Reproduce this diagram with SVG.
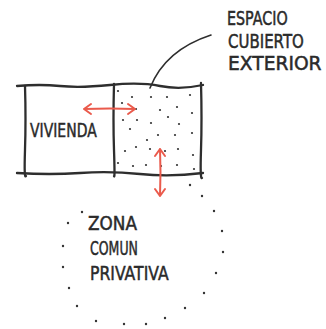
<svg xmlns="http://www.w3.org/2000/svg" width="326" height="329" viewBox="0 0 326 329">
<defs>
<style>
.ln{fill:none;stroke:#2e2e2e;stroke-width:2.3;stroke-linecap:round;stroke-linejoin:round}
.ld{fill:none;stroke:#2e2e2e;stroke-width:1.6;stroke-linecap:round}
.ar{fill:none;stroke:#ea5a4c;stroke-width:2;stroke-linecap:round;stroke-linejoin:round}
.t{font-family:"DejaVu Sans",sans-serif;font-size:19px;fill:#2a2a2a;stroke:#2a2a2a;stroke-width:0.5}
.d{fill:#333}
</style>
</defs>
<rect width="326" height="329" fill="#fff"/>
<g id="vivienda">
<path class="ln" d="M17,86 Q40,84 60,86 T110,85 T160,86 T203,85"/>
<path class="ln" d="M17,173 Q50,175 80,173 T140,174 T203,173"/>
<path class="ln" d="M25,86 Q26,120 25,150 T26,176"/>
<path class="ln" d="M114,84 Q113,120 114,150 T114,176"/>
<text class="t" transform="translate(30,137) scale(0.736,1)">VIVIENDA</text>
</g>
<g id="espacio">
<path class="ln" d="M201,83 Q202,120 201,150 T202,178"/>
<g class="d">
<circle cx="118" cy="91" r="1.1"/><circle cx="132" cy="97" r="1.1"/><circle cx="151" cy="97" r="1.1"/><circle cx="167" cy="97" r="1.1"/><circle cx="190" cy="95" r="1.1"/>
<circle cx="122" cy="103" r="1.1"/><circle cx="136" cy="109" r="1.1"/><circle cx="160" cy="110" r="1.1"/><circle cx="177" cy="107" r="1.1"/><circle cx="192" cy="113" r="1.1"/>
<circle cx="123" cy="120" r="1.1"/><circle cx="137" cy="120" r="1.1"/><circle cx="151" cy="123" r="1.1"/><circle cx="168" cy="117" r="1.1"/><circle cx="179" cy="124" r="1.1"/>
<circle cx="130" cy="129" r="1.1"/><circle cx="158" cy="135" r="1.1"/><circle cx="175" cy="135" r="1.1"/><circle cx="192" cy="133" r="1.1"/>
<circle cx="147" cy="140" r="1.1"/><circle cx="136" cy="147" r="1.1"/><circle cx="125" cy="151" r="1.1"/><circle cx="150" cy="149" r="1.1"/><circle cx="165" cy="151" r="1.1"/><circle cx="178" cy="149" r="1.1"/><circle cx="193" cy="155" r="1.1"/>
<circle cx="118" cy="163" r="1.1"/><circle cx="133" cy="166" r="1.1"/><circle cx="146" cy="165" r="1.1"/><circle cx="161" cy="166" r="1.1"/><circle cx="177" cy="165" r="1.1"/><circle cx="194" cy="169" r="1.1"/>
</g>
<text class="t" transform="translate(227,25) scale(0.753,1)">ESPACIO</text>
<text class="t" transform="translate(228,48) scale(0.789,1)">CUBIERTO</text>
<text class="t" transform="translate(228,70) scale(0.983,1)">EXTERIOR</text>
</g>
<g id="zona">
<g class="d">
<circle cx="190" cy="185" r="1.2"/><circle cx="202" cy="196" r="1.2"/><circle cx="214" cy="211" r="1.2"/><circle cx="222" cy="231" r="1.2"/><circle cx="223" cy="252" r="1.2"/><circle cx="216" cy="273" r="1.2"/><circle cx="204" cy="293" r="1.2"/><circle cx="185" cy="308" r="1.2"/><circle cx="165" cy="318" r="1.2"/><circle cx="146" cy="324" r="1.2"/><circle cx="124" cy="324" r="1.2"/><circle cx="96" cy="321" r="1.2"/><circle cx="77" cy="306" r="1.2"/><circle cx="69" cy="288" r="1.2"/><circle cx="63" cy="267" r="1.2"/><circle cx="63" cy="246" r="1.2"/><circle cx="68" cy="223" r="1.2"/><circle cx="82" cy="212" r="1.2"/>
</g>
<text class="t" transform="translate(88,230) scale(0.888,1)">ZONA</text>
<text class="t" transform="translate(90,255) scale(0.66,1)">COMUN</text>
<text class="t" transform="translate(90,280) scale(0.824,1)">PRIVATIVA</text>
</g>
<g id="connectors">
<path class="ld" d="M150,88 Q165,50 211,35"/>
<path class="ar" d="M84,109 Q110,108 135,109 M91,104 L84,109 L91,114 M128,104 L135,109 L128,114"/>
<path class="ar" d="M160,149 Q161,172 160,196 M155,156 L160,149 L165,156 M155,189 L160,196 L165,189"/>
</g>
</svg>
